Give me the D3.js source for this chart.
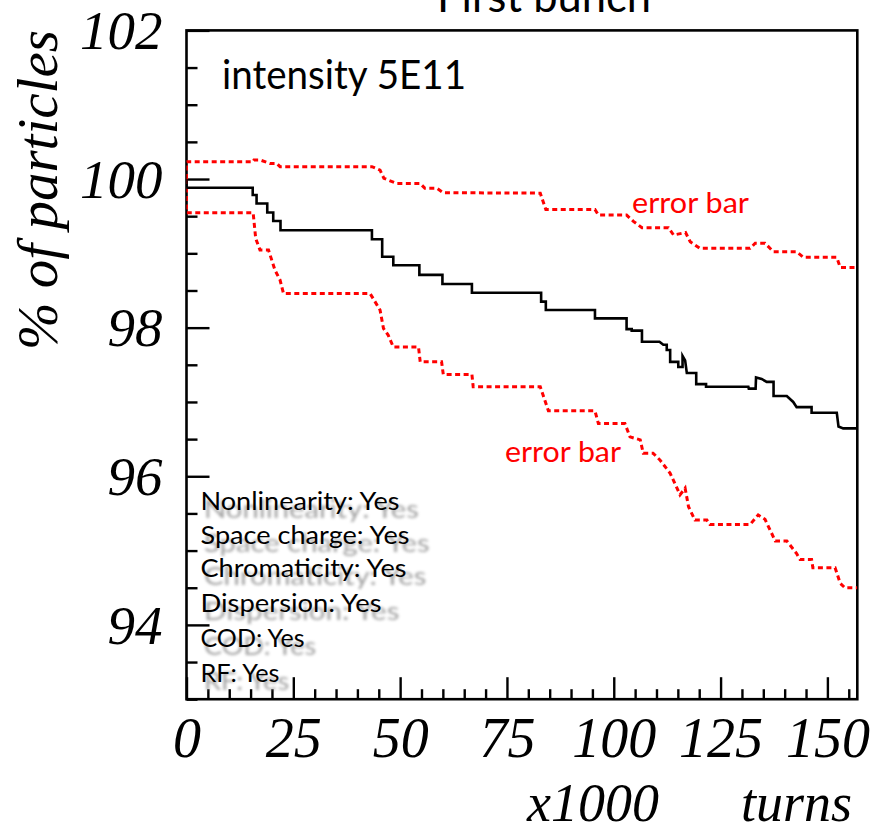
<!DOCTYPE html>
<html><head><meta charset="utf-8">
<script src="https://cdn.jsdelivr.net/npm/d3@7/dist/d3.min.js"></script>
<style>body{margin:0;background:#fff}svg{display:block}</style>
</head><body>
<svg id="c" width="873" height="827"></svg>
<script>
// ---------------- data ----------------
const xTickLabels = [0, 25, 50, 75, 100, 125, 150];
const yTickLabels = [94, 96, 98, 100, 102];

// [turns x1000, % of particles]
const meanCurve = [[0,100],[0,99.883],[15.5,99.883],[15.5,99.785],[16.4,99.785],[16.4,99.67],[18.9,99.67],[18.9,99.55],[20.3,99.55],[20.3,99.435],[22.0,99.435],[22.0,99.31],[43.4,99.31],[43.4,99.19],[45.8,99.19],[45.8,98.955],[48.4,98.955],[48.4,98.84],[54.5,98.84],[54.5,98.71],[59.9,98.71],[59.9,98.587],[66.8,98.587],[66.8,98.47],[83.0,98.47],[83.0,98.35],[84.1,98.35],[84.1,98.237],[95.6,98.237],[95.6,98.125],[103.0,98.125],[103.0,97.98],[104.2,97.98],[104.2,97.96],[106.6,97.96],[106.6,97.81],[110.7,97.81],[111.6,97.77],[112.4,97.77],[112.4,97.70],[113.2,97.70],[113.2,97.54],[115.1,97.54],[115.1,97.47],[116.1,97.47],[116.1,97.62],[116.7,97.56],[117.1,97.39],[119.3,97.39],[119.3,97.24],[121.6,97.24],[121.6,97.205],[131.5,97.205],[131.6,97.18],[133.2,97.18],[133.3,97.33],[134.6,97.31],[135.8,97.27],[137.4,97.27],[137.4,97.08],[140.5,97.08],[142.0,97.0],[142.8,96.93],[146.3,96.93],[146.3,96.855],[152.2,96.855],[152.6,96.67],[153.7,96.645],[157,96.645]];

const upperError = [[0,100],[0,100.233],[15.6,100.233],[15.8,100.256],[17.2,100.256],[19.5,100.21],[21.1,100.21],[21.9,100.166],[43.4,100.166],[45.3,100.12],[46.2,100.01],[49.2,99.94],[54.7,99.94],[55.8,99.875],[58.6,99.875],[60.1,99.816],[82.8,99.81],[84.1,99.59],[95.6,99.59],[96.4,99.515],[103.0,99.515],[104.6,99.43],[106.6,99.345],[112.8,99.345],[114.0,99.246],[116.8,99.28],[117.9,99.156],[120.2,99.067],[131.9,99.067],[133.1,99.135],[135.4,99.135],[137.4,99.02],[142.8,99.02],[144.4,98.946],[152.2,98.946],[153.0,98.81],[157,98.81]];

const lowerError = [[0,100],[0,99.546],[15.6,99.546],[16.2,99.2],[17.2,99.044],[19.2,99.044],[20.7,98.775],[21.9,98.64],[22.7,98.46],[42.95,98.46],[43.7,98.39],[45.3,98.237],[46.1,97.99],[47.2,97.90],[48.4,97.74],[54.3,97.74],[54.7,97.54],[59.7,97.54],[60.1,97.37],[66.8,97.37],[67.1,97.205],[82.8,97.205],[84.7,96.88],[95.6,96.88],[96.4,96.71],[102.6,96.71],[103.8,96.53],[106.2,96.49],[106.9,96.31],[109.2,96.31],[110.8,96.22],[113.2,96.04],[114.8,95.84],[115.5,95.75],[116.7,95.84],[117.5,95.59],[119.0,95.41],[121.8,95.41],[122.5,95.35],[131.9,95.35],[133.8,95.48],[135.4,95.42],[137.8,95.13],[140.5,95.13],[142.8,94.96],[143.6,94.88],[146.3,94.88],[146.6,94.77],[151.8,94.77],[153.0,94.56],[154.1,94.50],[157,94.50]];

const titleText = "First bunch";
const intensityText = "intensity 5E11";
const errorLabel = "error bar";
const conditions = ["Nonlinearity: Yes","Space charge: Yes","Chromaticity: Yes","Dispersion: Yes","COD: Yes","RF: Yes"];
const yTitle = "% of particles";
const xTitleA = "x1000", xTitleB = "turns";

// ---------------- layout ----------------
const svg = d3.select("#c");
const L = 186.5, R = 857.3, T = 30.4, B = 699.2;
const x = d3.scaleLinear().domain([0, 157]).range([L, R]);
const y = d3.scaleLinear().domain([93, 102]).range([B, T]);
const sans = "Lato, 'Open Sans', sans-serif";
const serif = "'Liberation Serif', 'DejaVu Serif', serif";

const defs = svg.append("defs");
defs.append("clipPath").attr("id","clip").append("rect")
  .attr("x", L).attr("y", T).attr("width", R - L).attr("height", B - T);
defs.append("filter").attr("id","blur").attr("x","-10%").attr("y","-30%").attr("width","130%").attr("height","160%")
  .append("feGaussianBlur").attr("stdDeviation", 1.5);

// title (cut off at top, as in the reference)
svg.append("text").attr("x", 437).attr("y", 12).text(titleText)
  .attr("font-family", sans).attr("font-size", 44).attr("fill", "#000")
  .attr("textLength", 214).attr("lengthAdjust", "spacingAndGlyphs");

// axes: minor + major ticks, inward
const yMinor = d3.range(93, 102.01, 0.5).filter(v => v % 2 !== 0);
svg.append("g").attr("transform", `translate(${L},0)`)
  .call(d3.axisLeft(y).tickValues(yMinor).tickSizeInner(-11).tickSizeOuter(0).tickFormat(""))
  .call(g => g.select(".domain").remove())
  .call(g => g.selectAll("line").attr("stroke-width", 2.4));
svg.append("g").attr("transform", `translate(${L},0)`)
  .call(d3.axisLeft(y).tickValues(yTickLabels).tickSizeInner(-23).tickSizeOuter(0).tickPadding(24))
  .call(g => g.select(".domain").remove())
  .call(g => g.selectAll("line").attr("stroke-width", 2.4))
  .call(g => g.selectAll("text").attr("font-family", serif).attr("font-style", "italic")
      .attr("font-size", 55).attr("fill", "#000").attr("dy", "0.33em"));

const xMinor = d3.range(5, 157, 5).filter(v => v % 25 !== 0);
svg.append("g").attr("transform", `translate(0,${B})`)
  .call(d3.axisBottom(x).tickValues(xMinor).tickSizeInner(-10).tickSizeOuter(0).tickFormat(""))
  .call(g => g.select(".domain").remove())
  .call(g => g.selectAll("line").attr("stroke-width", 2.4));
svg.append("g").attr("transform", `translate(0,${B})`)
  .call(d3.axisBottom(x).tickValues(xTickLabels).tickSizeInner(-22).tickSizeOuter(0).tickPadding(18))
  .call(g => g.select(".domain").remove())
  .call(g => g.selectAll("line").attr("stroke-width", 2.4))
  .call(g => g.selectAll("text").attr("font-family", serif).attr("font-style", "italic")
      .attr("font-size", 56).attr("fill", "#000"));

// frame
svg.append("rect").attr("x", L).attr("y", T).attr("width", R - L).attr("height", B - T)
  .attr("fill", "none").attr("stroke", "#000").attr("stroke-width", 2.6);

// curves
const line = d3.line().x(d => x(d[0])).y(d => y(d[1]));
const plot = svg.append("g").attr("clip-path", "url(#clip)");
plot.append("path").datum(upperError).attr("d", line).attr("fill", "none")
  .attr("stroke", "#ff0000").attr("stroke-width", 3).attr("stroke-dasharray", "5,3.5");
plot.append("path").datum(lowerError).attr("d", line).attr("fill", "none")
  .attr("stroke", "#ff0000").attr("stroke-width", 3).attr("stroke-dasharray", "5,3.5");
plot.append("path").datum(meanCurve).attr("d", line).attr("fill", "none")
  .attr("stroke", "#000").attr("stroke-width", 2.6).attr("stroke-linejoin", "miter");

// annotations
svg.append("text").attr("x", 222).attr("y", 89).text(intensityText)
  .attr("font-family", sans).attr("font-size", 40).attr("fill", "#000")
  .attr("textLength", 244).attr("lengthAdjust", "spacingAndGlyphs");
svg.append("text").attr("x", 632).attr("y", 213).text(errorLabel)
  .attr("font-family", sans).attr("font-size", 28).attr("fill", "#ff0000")
  .attr("textLength", 117).attr("lengthAdjust", "spacingAndGlyphs");
svg.append("text").attr("x", 505).attr("y", 462).text(errorLabel)
  .attr("font-family", sans).attr("font-size", 28).attr("fill", "#ff0000")
  .attr("textLength", 116).attr("lengthAdjust", "spacingAndGlyphs");

// conditions block with blurred shadow
const condBase = [510, 544, 577, 611.7, 647, 682];
const condLen = [199, 209, 206, 181, 104, 79];
const cg = svg.append("g");
conditions.forEach((c, i) => {
  cg.append("text").attr("transform", `translate(204,${condBase[i] + 8}) scale(1.08,1)`)
    .text(c).attr("font-family", sans).attr("font-size", 25).attr("fill", "#7a7a7a")
    .attr("opacity", 0.7).attr("filter", "url(#blur)")
    .attr("textLength", condLen[i]).attr("lengthAdjust", "spacingAndGlyphs");
});
conditions.forEach((c, i) => {
  cg.append("text").attr("x", 200.5).attr("y", condBase[i]).text(c)
    .attr("font-family", sans).attr("font-size", 25).attr("fill", "#000")
    .attr("textLength", condLen[i]).attr("lengthAdjust", "spacingAndGlyphs");
});

// axis titles
svg.append("text").attr("transform", "translate(57,190) rotate(-90)").attr("text-anchor", "middle")
  .text(yTitle).attr("font-family", serif).attr("font-style", "italic").attr("font-size", 57).attr("fill", "#000");
svg.append("text").attr("x", 527).attr("y", 821).text(xTitleA)
  .attr("font-family", serif).attr("font-style", "italic").attr("font-size", 54).attr("fill", "#000");
svg.append("text").attr("x", 852).attr("y", 821).attr("text-anchor", "end").text(xTitleB)
  .attr("font-family", serif).attr("font-style", "italic").attr("font-size", 54).attr("fill", "#000");
</script>
</body></html>
